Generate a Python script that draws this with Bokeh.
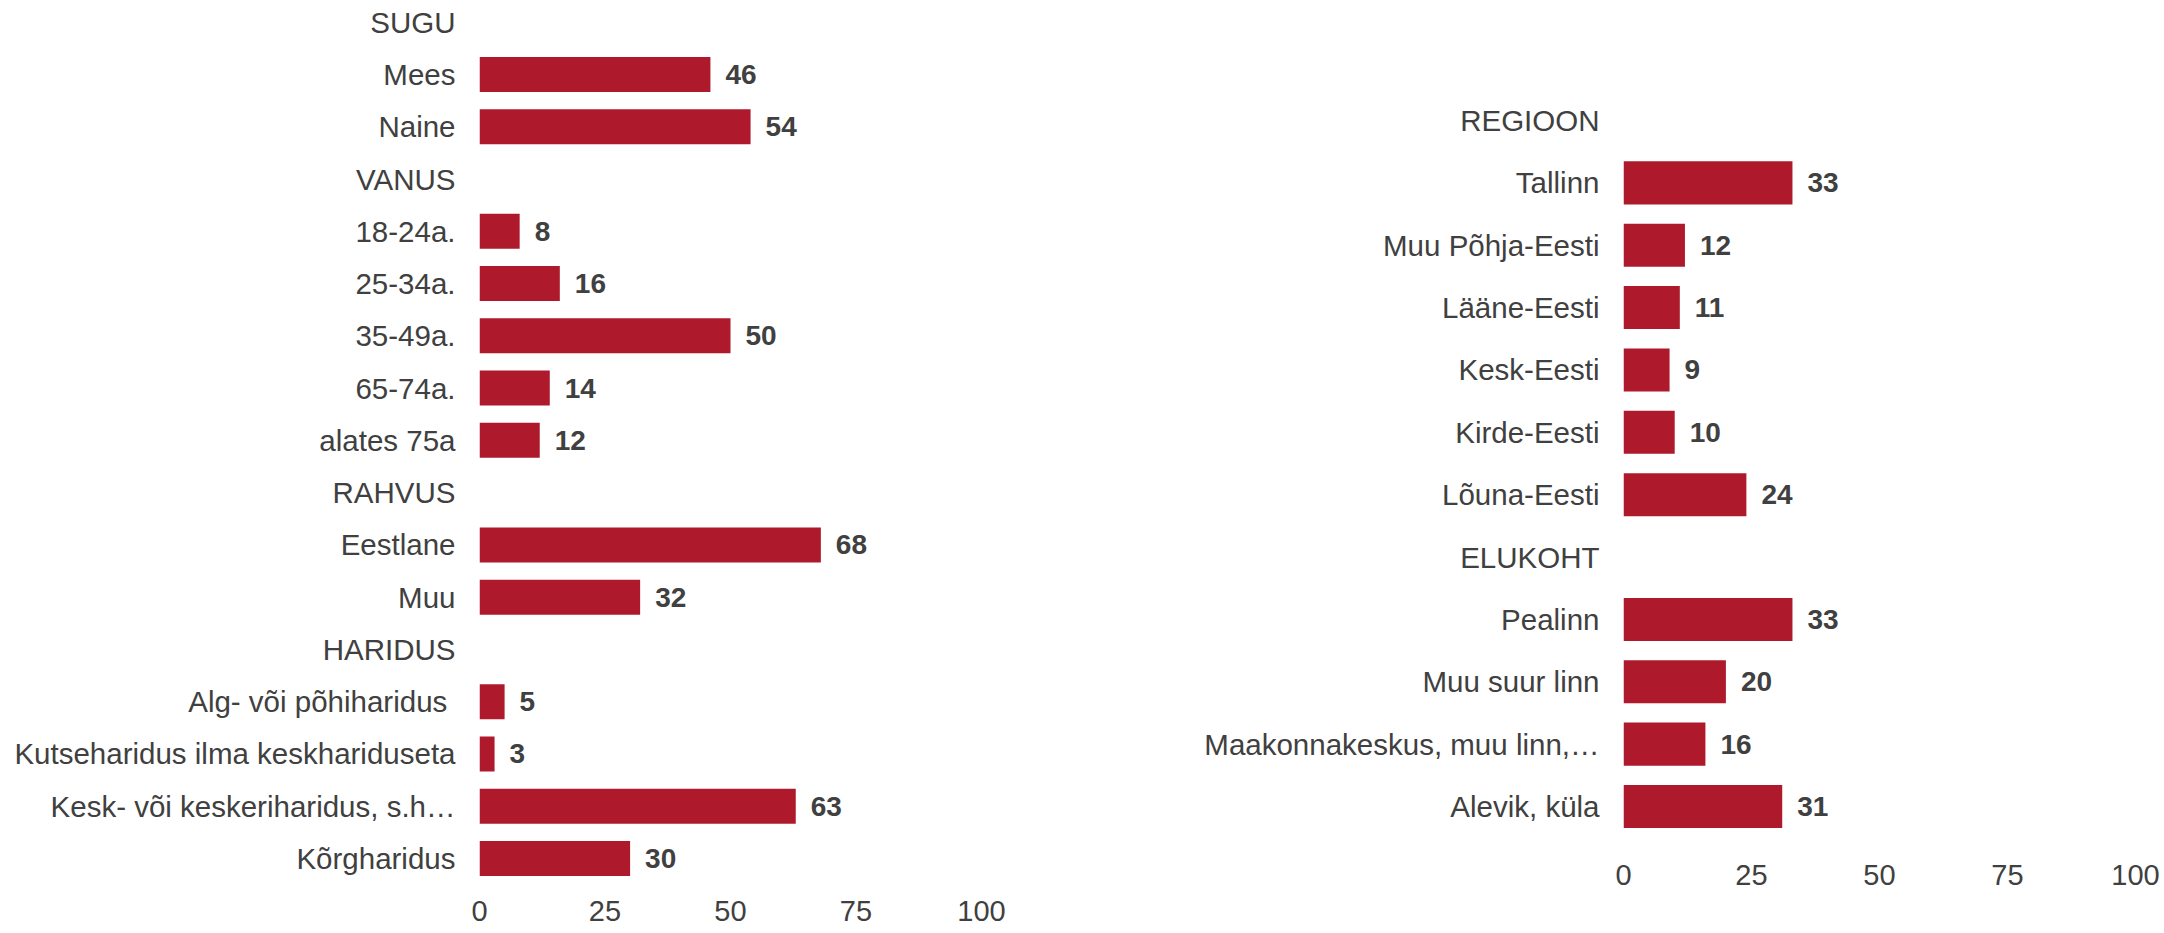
from bokeh.plotting import figure
from bokeh.models import ColumnDataSource, Range1d, FixedTicker
from bokeh.layouts import row
from bokeh.core.properties import value
from bokeh.embed import file_html
from bokeh.resources import INLINE

# ---- data ----
left_categories = ["SUGU", "Mees", "Naine", "VANUS", "18-24a.", "25-34a.", "35-49a.",
                   "65-74a.", "alates 75a", "RAHVUS", "Eestlane", "Muu", "HARIDUS",
                   "Alg- või  põhiharidus", "Kutseharidus ilma keskhariduseta",
                   "Kesk- või keskeriharidus, s.h…", "Kõrgharidus"]
left_values = [None, 46, 54, None, 8, 16, 50, 14, 12, None, 68, 32, None, 5, 3, 63, 30]

right_categories = ["REGIOON", "Tallinn", "Muu Põhja-Eesti", "Lääne-Eesti", "Kesk-Eesti",
                    "Kirde-Eesti", "Lõuna-Eesti", "ELUKOHT", "Pealinn", "Muu suur linn",
                    "Maakonnakeskus, muu linn,…", "Alevik, küla"]
right_values = [None, 33, 12, 11, 9, 10, 24, None, 33, 20, 16, 31]

x_ticks = [0, 25, 50, 75, 100]

BAR = "#AE1A2C"
TXT = "#404040"
FONT = "Liberation Sans"
FS_CAT = "29.5px"
FS_TICK = "29px"
FS_VAL = "28px"


def panel(cats, vals, width, height, b_left, b_right, b_bottom, y_top, y_bottom,
          bar_h, x_standoff):
    idx = [i for i, v in enumerate(vals) if v is not None]
    src = ColumnDataSource(dict(
        y=idx,
        v=[vals[i] for i in idx],
        t=[str(vals[i]) for i in idx],
    ))
    p = figure(width=width, height=height, output_backend="svg", toolbar_location=None,
               x_range=Range1d(0, 100), y_range=Range1d(start=y_bottom, end=y_top),
               min_border_left=b_left, min_border_right=b_right,
               min_border_top=0, min_border_bottom=b_bottom)
    p.outline_line_color = None
    p.xgrid.visible = False
    p.ygrid.visible = False
    p.background_fill_color = "white"
    p.border_fill_color = "white"

    p.hbar(y="y", left=0, right="v", height=bar_h, source=src,
           fill_color=BAR, line_color=None)
    p.text(x="v", y="y", text="t", source=src, x_offset=15,
           text_baseline="middle", text_align="left",
           text_font=value(FONT), text_font_size=FS_VAL, text_font_style="bold",
           text_color=TXT)

    ya = p.yaxis[0]
    ya.ticker = FixedTicker(ticks=list(range(len(cats))))
    ya.major_label_overrides = {i: c for i, c in enumerate(cats)}
    ya.axis_line_color = None
    ya.major_tick_line_color = None
    ya.minor_tick_line_color = None
    ya.major_tick_out = 0
    ya.major_label_standoff = 24
    ya.major_label_text_font = FONT
    ya.major_label_text_font_size = FS_CAT
    ya.major_label_text_color = TXT

    xa = p.xaxis[0]
    xa.ticker = FixedTicker(ticks=x_ticks)
    xa.axis_line_color = None
    xa.major_tick_line_color = None
    xa.minor_tick_line_color = None
    xa.major_tick_out = 0
    xa.major_label_standoff = x_standoff
    xa.major_label_text_font = FONT
    xa.major_label_text_font_size = FS_TICK
    xa.major_label_text_color = TXT
    return p


H = 933
FB = 880          # common frame bottom (row layout aligns frames)
BB = H - FB

# left: frame x 479..981, rows 21.7..858
ls = (858 - 21.7) / 16
lp = panel(left_categories, left_values, width=1100, height=H,
           b_left=479, b_right=1100 - 479 - 502, b_bottom=BB,
           y_top=-21.7 / ls, y_bottom=16 + (FB - 858) / ls,
           bar_h=0.67, x_standoff=20)
# right: frame x 1623..2135, rows 120..806
rs = (806 - 120) / 11
rp = panel(right_categories, right_values, width=1060, height=H,
           b_left=523, b_right=1060 - 523 - 512, b_bottom=BB,
           y_top=-120 / rs, y_bottom=11 + (FB - 806) / rs,
           bar_h=0.69, x_standoff=-16)

layout = row(lp, rp)
open("out.html", "w").write(file_html(layout, INLINE))
